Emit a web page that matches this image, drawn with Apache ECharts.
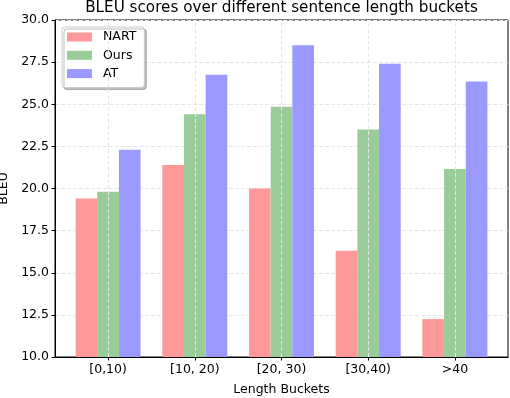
<!DOCTYPE html>
<html>
<head>
<meta charset="utf-8">
<script src="https://cdn.jsdelivr.net/npm/echarts@6/dist/echarts.min.js"></script>
<style>
  html, body { margin: 0; padding: 0; background: #fff; }
  #chart { width: 510px; height: 398px; }
</style>
</head>
<body>
<div id="chart"></div>
<script>
const categories = ['[0,10)', '[10, 20)', '[20, 30)', '[30,40)', '>40'];
const nart = [19.4, 21.4, 20.0, 16.3, 12.25];
const ours = [19.8, 24.4, 24.85, 23.5, 21.15];
const at = [22.3, 26.75, 28.5, 27.4, 26.35];

const font = 'DejaVu Sans';
const gridColor = '#e6e6e6';
const idx = categories.map((c, i) => i);
const toData = vals => vals.map((v, i) => [i, v]);

const chart = echarts.init(document.getElementById('chart'));

const barSeries = (name, vals, color) => ({
    name: name,
    type: 'bar',
    data: toData(vals),
    barWidth: '25%',
    barGap: '0%',
    itemStyle: { color: color },
    emphasis: { disabled: true }
});

chart.setOption({
    animation: false,
    textStyle: { fontFamily: font },
    title: {
        text: 'BLEU scores over different sentence length buckets',
        left: 281.5,
        textAlign: 'center',
        top: 1,
        padding: 0,
        textStyle: { fontFamily: font, fontSize: 15.2, fontWeight: 'normal', color: '#000' }
    },
    legend: {
        orient: 'vertical',
        left: 62,
        top: 27,
        icon: 'rect',
        itemWidth: 25,
        itemHeight: 9,
        itemGap: 4.3,
        padding: [3, 8, 7, 5],
        backgroundColor: '#fff',
        borderColor: '#cccccc',
        borderWidth: 1,
        borderRadius: 3,
        shadowColor: 'rgba(0,0,0,0.25)',
        shadowOffsetX: 2,
        shadowOffsetY: 2,
        shadowBlur: 0,
        textStyle: { fontFamily: font, fontSize: 12.5, color: '#000', lineHeight: 14, padding: [0, 0, 0, 6] },
        data: ['NART', 'Ours', 'AT']
    },
    grid: {
        left: 55, right: 2, top: 20, bottom: 41,
        outerBoundsMode: 'none',
        containLabel: false,
        show: true, borderColor: '#000', borderWidth: 1
    },
    xAxis: {
        type: 'value',
        min: -0.6125,
        max: 4.6125,
        name: 'Length Buckets',
        nameLocation: 'middle',
        nameGap: 26,
        nameTextStyle: { fontFamily: font, fontSize: 12.5, color: '#000' },
        axisLine: { show: true, onZero: false, lineStyle: { color: '#000', width: 1 } },
        axisTick: { show: true, customValues: idx, length: 3.5, lineStyle: { color: '#000' } },
        axisLabel: {
            customValues: idx,
            formatter: v => categories[Math.round(v)],
            fontFamily: font, fontSize: 12.5, color: '#000', margin: 6
        },
        splitLine: { show: false }
    },
    yAxis: {
        type: 'value',
        min: 10,
        max: 30,
        interval: 2.5,
        name: 'BLEU',
        nameLocation: 'middle',
        nameRotate: 90,
        nameGap: 42,
        nameTextStyle: { fontFamily: font, fontSize: 12.5, color: '#000' },
        axisLine: { show: true, onZero: false, lineStyle: { color: '#000', width: 1 } },
        axisTick: { show: true, length: 3.5, lineStyle: { color: '#000' } },
        axisLabel: {
            formatter: v => v.toFixed(1),
            fontFamily: font, fontSize: 12.5, color: '#000', margin: 6
        },
        splitLine: { show: true, lineStyle: { color: gridColor, type: [4, 2], width: 1 } }
    },
    series: [
        barSeries('NART', nart, '#ff9999'),
        barSeries('Ours', ours, '#99cc99'),
        barSeries('AT', at, '#9999ff'),
        {
            // vertical grid lines at the category ticks
            type: 'line',
            data: [],
            silent: true,
            z: 1,
            markLine: {
                silent: true,
                symbol: ['none', 'none'],
                label: { show: false },
                lineStyle: { color: gridColor, type: [4, 2], width: 1 },
                data: idx.map(i => ({ xAxis: i }))
            }
        }
    ]
});
</script>
</body>
</html>
